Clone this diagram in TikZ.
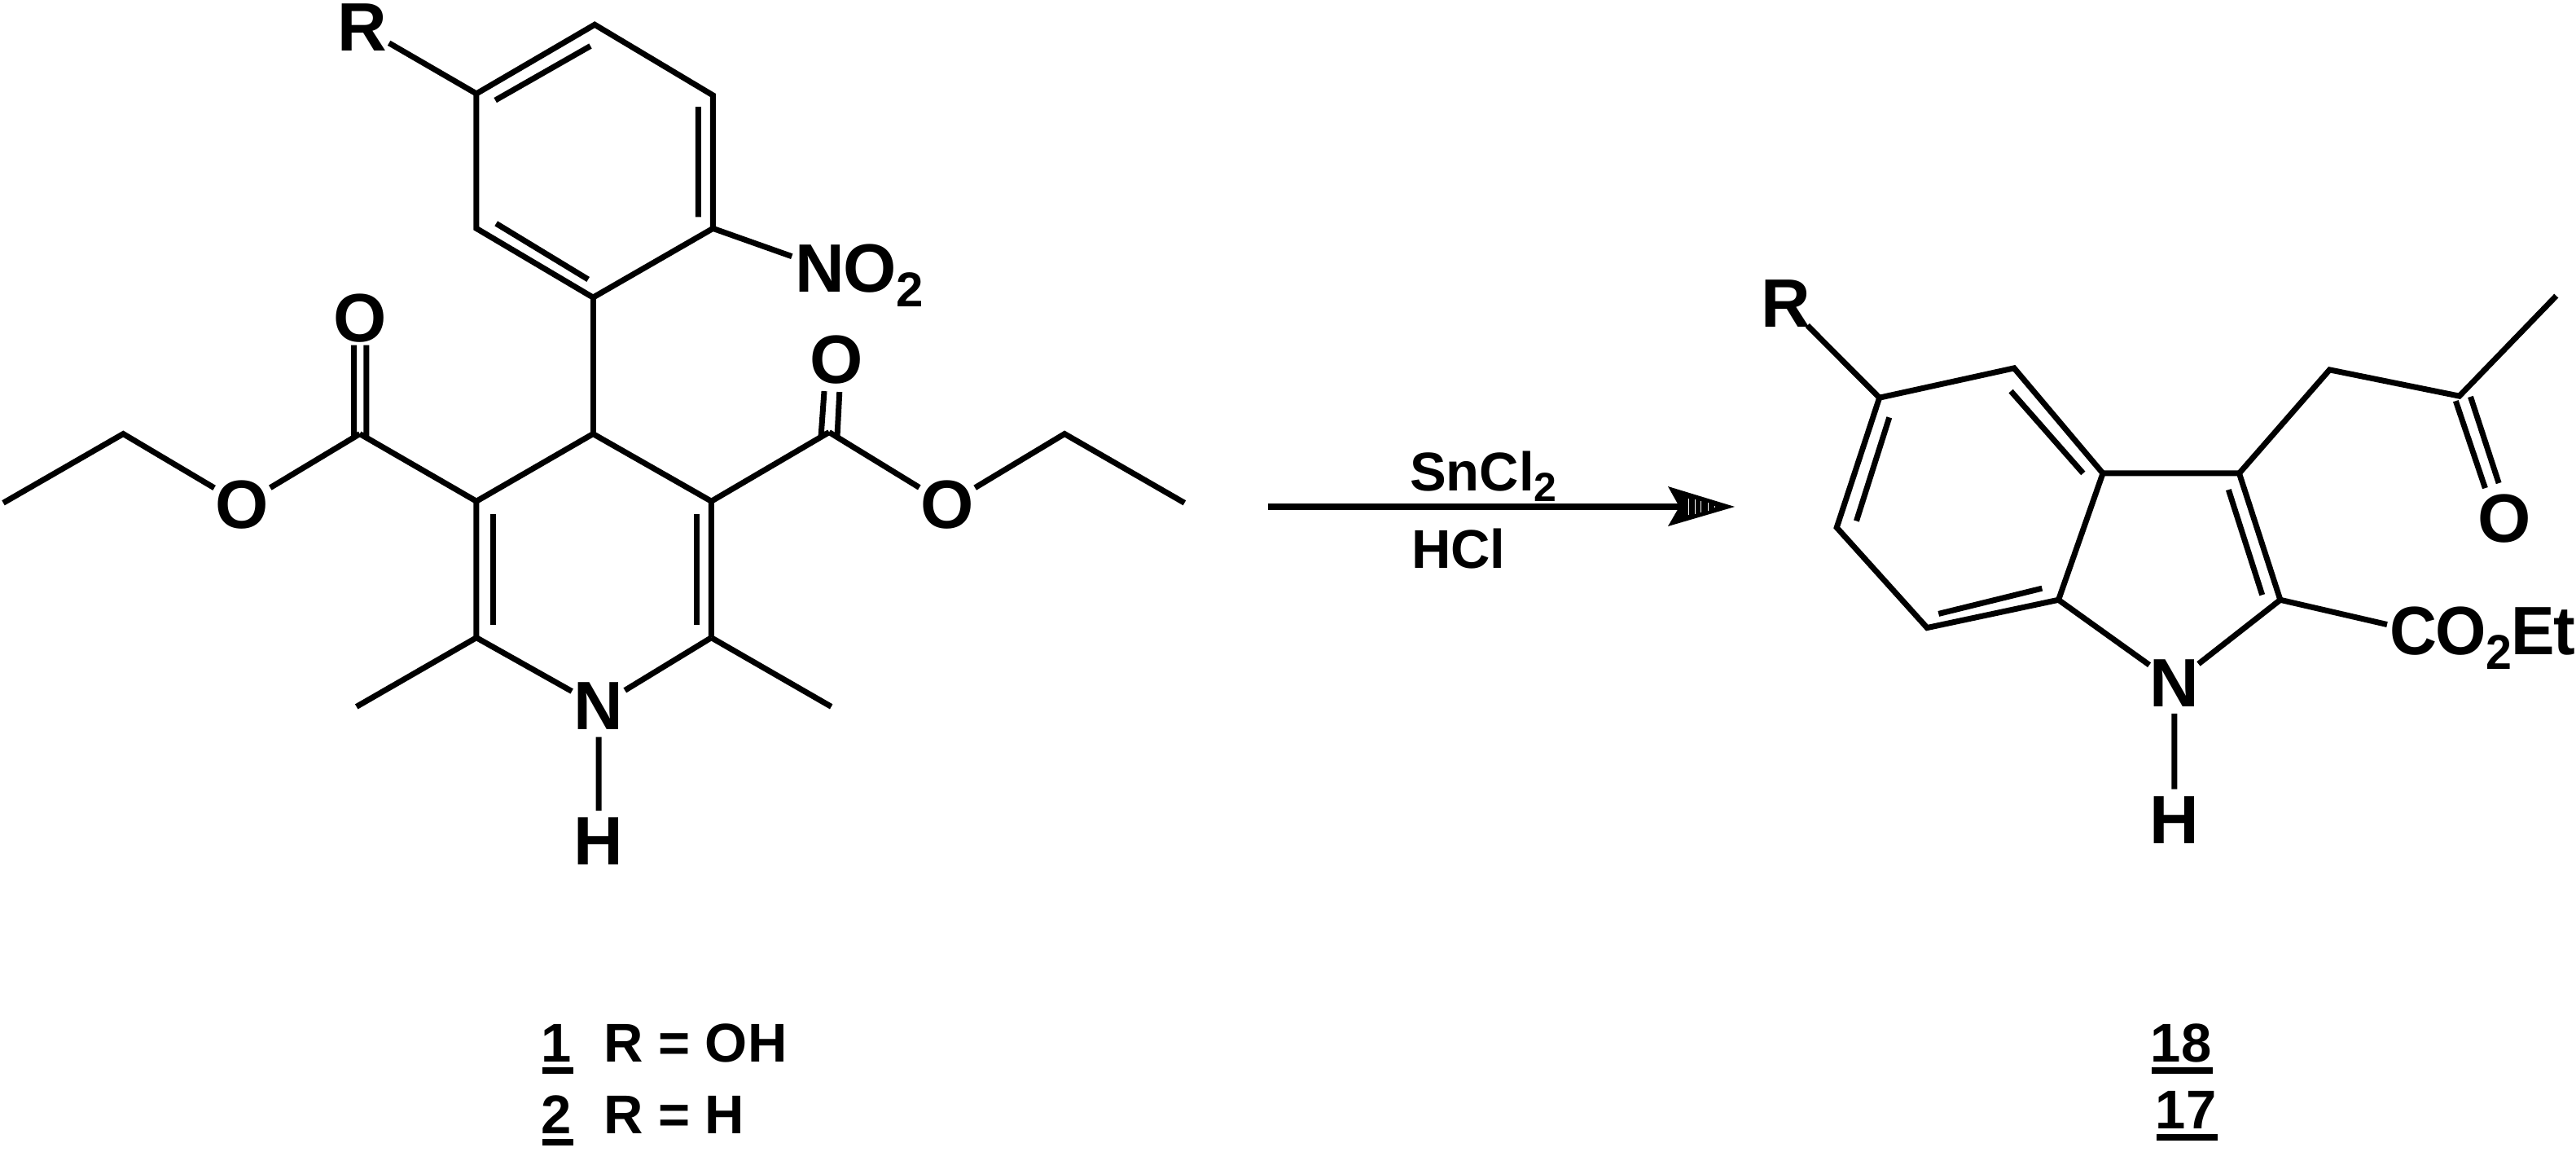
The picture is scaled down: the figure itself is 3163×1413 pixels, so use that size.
\documentclass[tikz,border=0pt]{standalone}
\usepackage{fontspec}
\setmainfont{Liberation Sans}
\newcommand{\atomfont}{\fontsize{84}{84}\selectfont\bfseries}
\newcommand{\lblfont}{\fontsize{67}{67}\selectfont\bfseries}
\newcommand{\subatom}[1]{\raisebox{-18pt}{\fontsize{60}{60}\selectfont\bfseries #1}}
\newcommand{\sublbl}[1]{\raisebox{-13pt}{\fontsize{50}{50}\selectfont\bfseries #1}}
\tikzset{
  bond/.style={line width=7pt,line cap=butt,line join=miter,black},
  atom/.style={circle,inner sep=0pt,outer sep=-4pt,font=\atomfont,text=black},
  atomtext/.style={rectangle,inner sep=0pt,outer sep=0pt,font=\atomfont,text=black},
  txt/.style={inner sep=0pt,font=\lblfont,text=black},
  ulbar/.style={line width=8pt,black},
}
\begin{document}
\begin{tikzpicture}[x=2.0172pt,y=-2.0172pt]
\path[use as bounding box,fill=white] (0pt,0pt) rectangle (3163pt,-1413pt);
% benzene
\coordinate (a1) at (362,15);
\coordinate (a2) at (434,58);
\coordinate (a3) at (434,139);
\coordinate (a4) at (361,181);
\coordinate (a5) at (290,139);
\coordinate (a6) at (290,57);
\draw[bond] (a1)--(a2)--(a3)--(a4)--(a5)--(a6)--cycle;
\coordinate (i1) at (301.5,61); \coordinate (i2) at (359.4,28);
\coordinate (i3) at (425,65); \coordinate (i4) at (425,132);
\coordinate (i5) at (302,136); \coordinate (i6) at (358,170);
\draw[bond] (i1)--(i2) (i3)--(i4) (i5)--(i6);
\node[atom] (R1) at (220.6,16.8) {R};
\draw[bond] (a6)--(R1);
\node[atomtext,anchor=base west] (no2) at (976pt,-358pt) {N\kern-1ptO\kern-1pt\subatom{2}};
\coordinate (no2b) at (482,156);
\draw[bond] (a3)--(no2b);
% dihydropyridine
\coordinate (p1) at (361,264);
\coordinate (p2) at (433,305);
\coordinate (p3) at (433,388);
\coordinate (p5) at (290,388);
\coordinate (p6) at (290,305);
\node[atom] (N1) at (364.4,429.8) {N};
\node[atom] (H1) at (364.4,512) {H};
\draw[bond] (a4)--(p1);
\draw[bond] (p5)--(p6)--(p1)--(p2)--(p3);
\draw[bond] (p3)--(N1) (p5)--(N1) (N1)--(H1);
\coordinate (i7) at (300,313); \coordinate (i8) at (300,380);
\coordinate (i9) at (424,313); \coordinate (i10) at (424,380);
\draw[bond] (i7)--(i8) (i9)--(i10);
\coordinate (m1) at (217,430); \coordinate (m2) at (506,430);
\draw[bond] (p5)--(m1) (p3)--(m2);
% left ester
\coordinate (c1) at (219,264);
\node[atom] (O1) at (219,193.5) {O};
\node[atom] (O2) at (147.5,307) {O};
\coordinate (e1) at (75,264); \coordinate (e2) at (2,306);
\coordinate (d1) at (215.5,210); \coordinate (d2) at (215.5,266);
\coordinate (d3) at (223,210); \coordinate (d4) at (223,266);
\draw[bond] (p6)--(c1) (d1)--(d2) (d3)--(d4);
\draw[bond] (c1)--(O2) (O2)--(e1)--(e2);
% right ester
\coordinate (c2) at (504.7,263);
\node[atom] (O3) at (509,219) {O};
\node[atom] (O4) at (576.5,307) {O};
\coordinate (e3) at (648,264); \coordinate (e4) at (721,306);
\coordinate (d5) at (501.7,238); \coordinate (d6) at (499.7,266);
\coordinate (d7) at (511,238.5); \coordinate (d8) at (509.6,266);
\draw[bond] (p2)--(c2) (d5)--(d6) (d7)--(d8);
\draw[bond] (c2)--(O4) (O4)--(e3)--(e4);
% arrow
\coordinate (ar1) at (772,308.2);
\coordinate (ar2) at (1030,308.2);
\draw[line width=8pt,black] (ar1)--(ar2);
\fill[black] (2048pt,-597pt)--(2130pt,-622pt)--(2048pt,-646pt)--(2062pt,-622pt)--cycle;
\foreach \xx/\hh in {2073/10,2081/9,2088/7,2097/5,2105/1}
  \draw[white,line width=1pt] (\xx pt,-622pt+\hh pt)--(\xx pt,-622pt-\hh pt);
\node[txt,anchor=base west] (sn) at (1731pt,-602.7pt) {SnCl\sublbl{2}};
\node[txt,anchor=base west] (hcl) at (1733pt,-697pt) {HCl};
% indole
\coordinate (b1) at (1144,242);
\coordinate (b2) at (1226,224);
\coordinate (b3) at (1280,288);
\coordinate (b4) at (1253,365);
\coordinate (b5) at (1173,382);
\coordinate (b6) at (1118,321);
\coordinate (b7) at (1363,288);
\coordinate (b8) at (1388,365);
\node[atom] (N2) at (1323.5,415.5) {N};
\node[atom] (H2) at (1323.5,498.9) {H};
\node[atom] (R2) at (1087,184.8) {R};
\draw[bond] (b1)--(b2)--(b3)--(b4)--(b5)--(b6)--cycle;
\draw[bond] (b3)--(b7)--(b8);
\draw[bond] (b8)--(N2) (b4)--(N2) (N2)--(H2) (b1)--(R2);
\coordinate (i11) at (1150,254); \coordinate (i12) at (1130,317);
\coordinate (i13) at (1224,238); \coordinate (i14) at (1268,288);
\coordinate (i15) at (1180,373.5); \coordinate (i16) at (1243,358);
\coordinate (i17) at (1356.5,298); \coordinate (i18) at (1377,362);
\draw[bond] (i11)--(i12) (i13)--(i14) (i15)--(i16) (i17)--(i18);
\coordinate (s1) at (1418,225); \coordinate (s2) at (1497,241); \coordinate (s3) at (1556,180);
\draw[bond] (b7)--(s1)--(s2)--(s3);
\node[atom] (O5) at (1524.5,315.8) {O};
\coordinate (d9) at (1494.8,244); \coordinate (d10) at (1512.7,297);
\coordinate (d11) at (1503.8,241.4); \coordinate (d12) at (1521,294);
\draw[bond] (d9)--(d10) (d11)--(d12);
\node[atomtext,anchor=base west] (co) at (2934pt,-803pt) {\scalebox{0.955}[1]{C\kern-2ptO\subatom{2}\kern-1ptE\kern-1ptt}};
\coordinate (cob) at (1453,380);
\draw[bond] (b8)--(cob);
% labels
\node[txt,anchor=base] (n1) at (683pt,-1303pt) {1};
\node[txt,anchor=base] (n2) at (683pt,-1391pt) {2};
\node[txt,anchor=base west] (r1) at (741pt,-1303pt) {R = OH};
\node[txt,anchor=base west] (r2) at (741pt,-1391pt) {R = H};
\draw[ulbar] (666pt,-1314pt)--(704pt,-1314pt);
\draw[ulbar] (666pt,-1402pt)--(704pt,-1402pt);
\node[txt,anchor=base] (n3) at (2678pt,-1303pt) {18};
\node[txt,anchor=base] (n4) at (2684pt,-1385pt) {17};
\draw[ulbar] (2642pt,-1314pt)--(2717pt,-1314pt);
\draw[ulbar] (2648pt,-1396pt)--(2723pt,-1396pt);
\end{tikzpicture}
\end{document}
